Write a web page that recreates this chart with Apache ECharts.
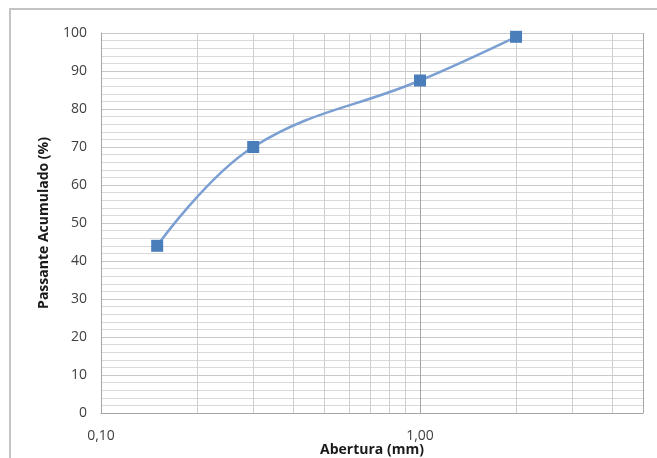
<!DOCTYPE html>
<html>
<head>
<meta charset="utf-8">
<script src="https://cdn.jsdelivr.net/npm/echarts@6/dist/echarts.min.js"></script>
<style>
  html, body { margin: 0; padding: 0; background: #fff; }
  #main { width: 657px; height: 458px; }
</style>
</head>
<body>
<div id="main"></div>
<script>
// curva granulométrica
const abertura = [0.15, 0.3, 1.0, 2.0];
const passante = [44, 70, 87.5, 99];
// linhas verticais secundárias da escala log
const gradeX = [0.2, 0.3, 0.4, 0.5, 0.6, 0.7, 0.8, 0.9, 2, 3, 4];

const chart = echarts.init(document.getElementById("main"));
const fonte = "Open Sans";

const option = {
  backgroundColor: "#fff",
  animation: false,
  graphic: [
    {
      type: "rect",
      shape: { x: 10, y: 9, width: 700, height: 500 },
      style: { fill: "none", stroke: "#c4c4c4", lineWidth: 2 },
      silent: true,
    },
  ],
  grid: { left: 101, top: 33, right: 14, bottom: 45, outerBoundsMode: "none" },
  xAxis: {
    type: "log",
    logBase: 10,
    min: 0.1,
    max: 5,
    name: "Abertura (mm)",
    nameLocation: "middle",
    nameGap: 30,
    nameMoveOverlap: false,
    nameTextStyle: { fontFamily: fonte, fontWeight: "bold", fontSize: 14, color: "#1a1a1a" },
    axisLine: { show: true, lineStyle: { color: "#a6a6a6" } },
    axisTick: { show: false },
    axisLabel: {
      showMaxLabel: false,
      margin: 16,
      fontFamily: fonte,
      fontSize: 14,
      color: "#404040",
      formatter: (v) => v.toFixed(2).replace(".", ","),
    },
    splitLine: { show: true, lineStyle: { color: "#a6a6a6" } },
  },
  yAxis: {
    type: "value",
    min: 0,
    max: 100,
    interval: 10,
    name: "Passante Acumulado (%)",
    nameLocation: "middle",
    nameGap: 50,
    nameMoveOverlap: false,
    nameTextStyle: { fontFamily: fonte, fontWeight: "bold", fontSize: 14, color: "#1a1a1a" },
    axisLine: { show: true, lineStyle: { color: "#a6a6a6" } },
    axisTick: { show: false },
    axisLabel: { margin: 14, fontFamily: fonte, fontSize: 14, color: "#404040" },
    splitLine: { show: true, lineStyle: { color: "#c8c8c8" } },
    minorTick: { show: false, splitNumber: 5 },
    minorSplitLine: { show: true, lineStyle: { color: "#d9d9d9" } },
  },
  series: [
    {
      type: "line",
      data: [],
      silent: true,
      markLine: {
        silent: true,
        symbol: "none",
        label: { show: false },
        lineStyle: { color: "#cfcfcf", type: "solid", width: 1 },
        data: gradeX.map((v) => ({ xAxis: v })),
      },
    },
    {
      type: "line",
      data: abertura.map((x, i) => [x, passante[i]]),
      smooth: 0.4,
      symbol: "rect",
      symbolSize: 12,
      z: 5,
      itemStyle: { color: "#4a7ebb" },
      lineStyle: { color: "#7b9fd2", width: 2.5 },
    },
  ],
};

chart.setOption(option);
</script>
</body>
</html>
